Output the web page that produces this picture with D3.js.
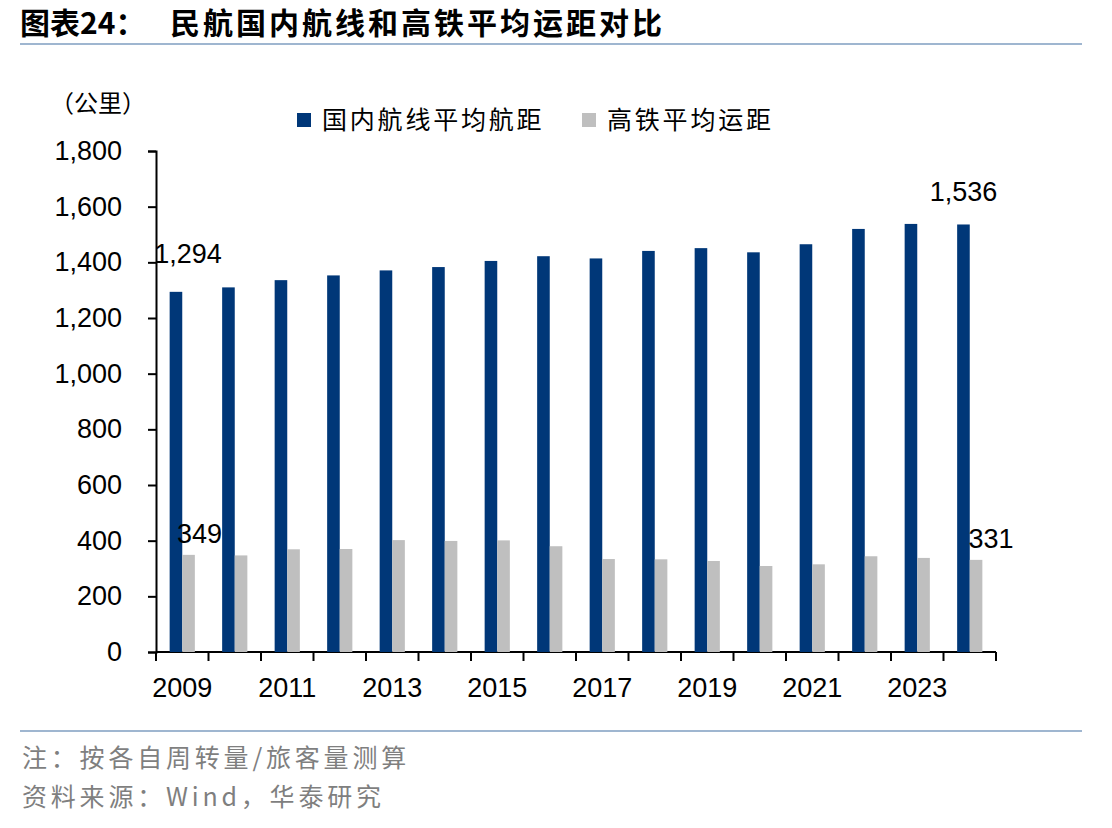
<!DOCTYPE html>
<html>
<head>
<meta charset="utf-8">
<script src="https://cdn.jsdelivr.net/npm/d3@7"></script>
<style>
  body { margin: 0; background: #fff; }
  svg text { font-family: "Liberation Sans", Arial, sans-serif; }
  .cjk { font-family: "Noto Sans CJK SC", sans-serif; }
</style>
</head>
<body>
<div id="chart"></div>
<script>
var years = ["2009","2010","2011","2012","2013","2014","2015","2016","2017","2018","2019","2020","2021","2022","2023","2024"];
var airDistance = [1294, 1310, 1336, 1353, 1371, 1383, 1405, 1422, 1414, 1441, 1451, 1436, 1465, 1520, 1538, 1536];
var railDistance = [349, 347, 369, 370, 402, 399, 401, 380, 334, 333, 327, 309, 315, 344, 338, 331];
var seriesNames = ["国内航线平均航距", "高铁平均运距"];
var yTicks = [0, 200, 400, 600, 800, 1000, 1200, 1400, 1600, 1800];

var w = 1112, h = 828;
var navy = "#003778", grey = "#bfbfbf";

var svg = d3.select("#chart").append("svg")
    .attr("width", w)
    .attr("height", h);

// title + rules
svg.append("text").attr("class", "cjk")
    .attr("x", 20).attr("y", 34)
    .attr("font-size", 30).attr("font-weight", 700)
    .text("图表24：");
svg.append("text").attr("class", "cjk")
    .attr("x", 170).attr("y", 34)
    .attr("font-size", 30).attr("font-weight", 700)
    .attr("letter-spacing", 3)
    .text("民航国内航线和高铁平均运距对比");

svg.append("line")
    .attr("x1", 20).attr("x2", 1082).attr("y1", 44).attr("y2", 44)
    .attr("stroke", "#9fb6d0").attr("stroke-width", 2);
svg.append("line")
    .attr("x1", 20).attr("x2", 1082).attr("y1", 731).attr("y2", 731)
    .attr("stroke", "#9fb6d0").attr("stroke-width", 2);

// scales
var x = d3.scaleBand().domain(years).range([156, 996]);
var y = d3.scaleLinear().domain([0, 1800]).range([652, 151]);
var barW = x.bandwidth() * 0.24;

// axes
var yAxis = d3.axisLeft(y).tickValues(yTicks).tickSize(8).tickPadding(26)
    .tickFormat(d3.format(","));
var gy = svg.append("g").attr("transform", "translate(156,0)").call(yAxis);
gy.select(".domain").attr("stroke", "#000").attr("stroke-width", 2);
gy.selectAll(".tick line").attr("stroke", "#000").attr("stroke-width", 2);
gy.selectAll(".tick text").attr("font-size", 27).attr("fill", "#000")
    .attr("font-family", "Liberation Sans, Arial, sans-serif");

// x axis: ticks at band boundaries, labels every other year
var xb = svg.append("g");
xb.append("line").attr("x1", 156).attr("x2", 996).attr("y1", 652).attr("y2", 652)
    .attr("stroke", "#000").attr("stroke-width", 2);
var bounds = years.map(function (d) { return x(d); }).concat([x(years[years.length - 1]) + x.bandwidth()]);
xb.selectAll("line.t").data(bounds).enter().append("line")
    .attr("class", "t")
    .attr("x1", function (d) { return d; }).attr("x2", function (d) { return d; })
    .attr("y1", 652).attr("y2", 661)
    .attr("stroke", "#000").attr("stroke-width", 2);
xb.selectAll("text").data(years.filter(function (d, i) { return i % 2 === 0; }))
    .enter().append("text")
    .attr("x", function (d) { return x(d) + x.bandwidth() / 2; })
    .attr("y", 697)
    .attr("text-anchor", "middle")
    .attr("font-size", 27)
    .text(function (d) { return d; });

// bars
svg.append("g").selectAll("rect").data(airDistance).enter().append("rect")
    .attr("x", function (d, i) { return x(years[i]) + x.bandwidth() / 2 - barW; })
    .attr("y", function (d) { return y(d); })
    .attr("width", barW)
    .attr("height", function (d) { return y(0) - y(d); })
    .attr("fill", navy);
svg.append("g").selectAll("rect").data(railDistance).enter().append("rect")
    .attr("x", function (d, i) { return x(years[i]) + x.bandwidth() / 2; })
    .attr("y", function (d) { return y(d); })
    .attr("width", barW)
    .attr("height", function (d) { return y(0) - y(d); })
    .attr("fill", grey);

// data labels on first and last points
var fmt = d3.format(",");
var n = years.length - 1;
var labels = [
    { v: airDistance[0], cx: x(years[0]) + x.bandwidth() / 2 - barW / 2 + 12, dy: -29 },
    { v: airDistance[n], cx: x(years[n]) + x.bandwidth() / 2 - barW / 2, dy: -23 },
    { v: railDistance[0], cx: x(years[0]) + x.bandwidth() / 2 + barW / 2 + 11, dy: -12 },
    { v: railDistance[n], cx: x(years[n]) + x.bandwidth() / 2 + barW / 2 + 15, dy: -12 }
];
svg.append("g").selectAll("text").data(labels).enter().append("text")
    .attr("x", function (d) { return d.cx; })
    .attr("y", function (d) { return y(d.v) + d.dy; })
    .attr("text-anchor", "middle")
    .attr("font-size", 27)
    .text(function (d) { return fmt(d.v); });

// unit
svg.append("text").attr("class", "cjk")
    .attr("x", 50).attr("y", 112)
    .attr("font-size", 24)
    .text("（公里）");

// legend
var legend = svg.append("g");
var legX = [297, 582];
var legC = [navy, grey];
seriesNames.forEach(function (name, i) {
    legend.append("rect")
        .attr("x", legX[i]).attr("y", 113)
        .attr("width", 14).attr("height", 14)
        .attr("fill", legC[i]);
    legend.append("text").attr("class", "cjk")
        .attr("x", legX[i] + 25).attr("y", 129)
        .attr("font-size", 25)
        .attr("letter-spacing", 2.8)
        .text(name);
});

// footnotes
svg.append("text").attr("class", "cjk")
    .attr("x", 22).attr("y", 767)
    .attr("font-size", 25).attr("letter-spacing", 3.8)
    .attr("fill", "#7f7f7f")
    .text("注：按各自周转量/旅客量测算");
svg.append("text").attr("class", "cjk")
    .attr("x", 22).attr("y", 806)
    .attr("font-size", 25).attr("letter-spacing", 3.8)
    .attr("fill", "#7f7f7f")
    .text("资料来源：Wind，华泰研究");
</script>
</body>
</html>
